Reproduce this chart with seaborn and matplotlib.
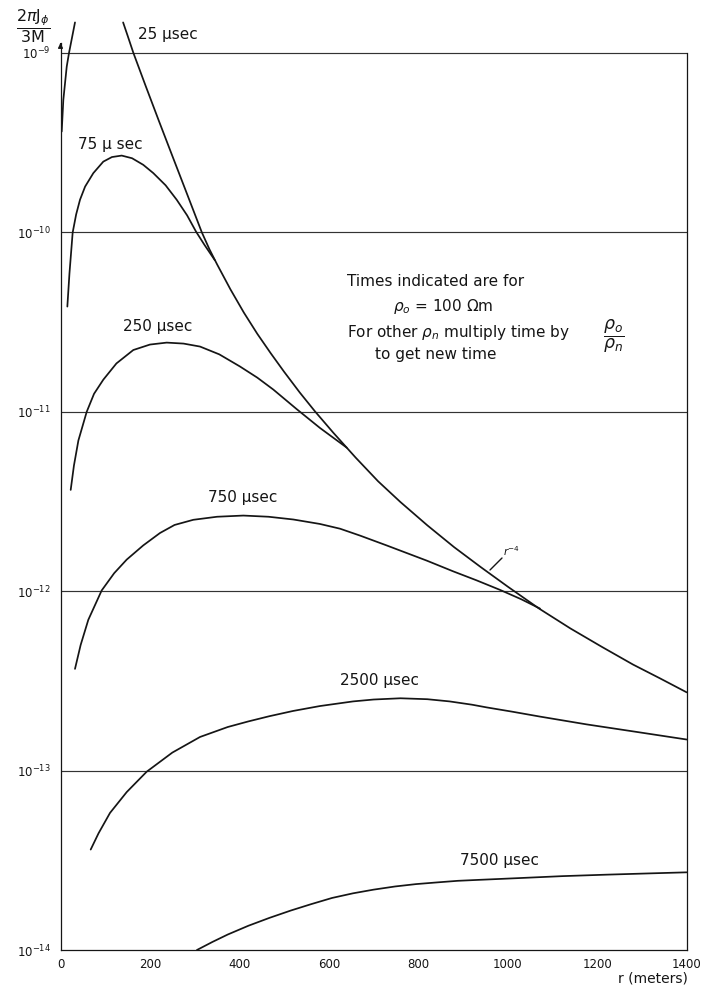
import numpy as np
import pandas as pd
import matplotlib
matplotlib.use("Agg")
import matplotlib.pyplot as plt
from matplotlib.ticker import NullLocator
import seaborn as sns

# ---------------- data ----------------
r_25_near = [2.7, 6.3, 13.9, 19, 32.4]
j_25_near = [3.65e-10, 5.47e-10, 8.39e-10, 1.0e-9, 1.48e-9]

r_25 = [140, 150, 163, 190, 220, 250, 280, 316, 333, 350, 380, 410, 440, 470,
        500, 535, 569, 610, 660, 710, 760, 820, 880, 940, 1000, 1070, 1140,
        1210, 1280, 1340, 1400]
j_25 = [1.48e-9, 1.25e-9, 1.0e-9, 6.59e-10, 4.18e-10, 2.67e-10, 1.71e-10,
        1.0e-10, 8.05e-11, 6.64e-11, 4.81e-11, 3.57e-11, 2.72e-11, 2.12e-11,
        1.67e-11, 1.28e-11, 1.005e-11, 7.64e-12, 5.55e-12, 4.1e-12, 3.14e-12,
        2.33e-12, 1.76e-12, 1.36e-12, 1.06e-12, 8.0e-13, 6.2e-13, 4.9e-13,
        3.9e-13, 3.27e-13, 2.73e-13]

r_75 = [15.3, 20, 27.2, 35, 43.6, 55, 73.4, 95.7, 115, 136.8, 160, 185, 207.5,
        235, 259.8, 283, 303, 322, 345]
j_75 = [3.86e-11, 5.89e-11, 9.98e-11, 1.26e-10, 1.52e-10, 1.80e-10, 2.14e-10,
        2.48e-10, 2.63e-10, 2.68e-10, 2.59e-10, 2.38e-10, 2.14e-10, 1.83e-10,
        1.52e-10, 1.245e-10, 1.01e-10, 8.51e-11, 7.0e-11]

r_250 = [22.8, 30, 40, 58.6, 75, 95.7, 125, 162.8, 200, 237.4, 275, 311.9, 355,
         401, 440, 475.8, 528, 580, 640]
j_250 = [3.67e-12, 5.01e-12, 6.92e-12, 1.0e-11, 1.26e-11, 1.51e-11, 1.86e-11,
         2.21e-11, 2.37e-11, 2.43e-11, 2.40e-11, 2.31e-11, 2.09e-11, 1.79e-11,
         1.55e-11, 1.33e-11, 1.035e-11, 8.13e-12, 6.31e-12]

r_750 = [32.4, 45, 62.2, 92.1, 120, 148, 185, 222.4, 255, 296.9, 350, 408.7,
         465, 520.5, 580, 625, 670, 729, 819, 878, 930, 983, 1030, 1072]
j_750 = [3.69e-13, 5.01e-13, 6.93e-13, 1.01e-12, 1.26e-12, 1.50e-12, 1.80e-12,
         2.11e-12, 2.34e-12, 2.50e-12, 2.60e-12, 2.64e-12, 2.60e-12, 2.51e-12,
         2.37e-12, 2.23e-12, 2.04e-12, 1.80e-12, 1.48e-12, 1.29e-12, 1.15e-12,
         1.016e-12, 9.02e-13, 8.0e-13]

r_2500 = [67.5, 85, 110.7, 148, 192.7, 250, 312, 374, 420, 467, 520, 580, 654,
          700, 760, 820, 870, 920, 953, 1010, 1072, 1176, 1290, 1400]
j_2500 = [3.63e-14, 4.47e-14, 5.81e-14, 7.59e-14, 9.86e-14, 1.26e-13, 1.54e-13,
          1.75e-13, 1.88e-13, 2.01e-13, 2.15e-13, 2.29e-13, 2.43e-13, 2.49e-13,
          2.53e-13, 2.50e-13, 2.43e-13, 2.33e-13, 2.25e-13, 2.13e-13, 2.00e-13,
          1.81e-13, 1.64e-13, 1.49e-13]

r_7500 = [305, 340, 374, 420, 467, 515, 560, 607, 654, 700, 748, 795, 841, 888,
          935, 983, 1030, 1121, 1221, 1310, 1400]
j_7500 = [1.0e-14, 1.11e-14, 1.22e-14, 1.365e-14, 1.51e-14, 1.66e-14, 1.80e-14,
          1.95e-14, 2.07e-14, 2.17e-14, 2.26e-14, 2.33e-14, 2.38e-14, 2.43e-14,
          2.46e-14, 2.49e-14, 2.52e-14, 2.58e-14, 2.63e-14, 2.67e-14, 2.71e-14]

curve_labels = ["25 μsec", "75 μ sec", "250 μsec", "750 μsec", "2500 μsec", "7500 μsec"]
x_ticks = [0, 200, 400, 600, 800, 1000, 1200, 1400]
y_ticks = [1e-14, 1e-13, 1e-12, 1e-11, 1e-10, 1e-9]
y_tick_labels = [r"$10^{-14}$", r"$10^{-13}$", r"$10^{-12}$", r"$10^{-11}$",
                 r"$10^{-10}$", r"$10^{-9}$"]

series = [("25a", r_25_near, j_25_near), ("25", r_25, j_25), ("75", r_75, j_75),
          ("250", r_250, j_250), ("750", r_750, j_750),
          ("2500", r_2500, j_2500), ("7500", r_7500, j_7500)]
df = pd.concat([pd.DataFrame({"curve": name, "r": rr, "J": jj})
                for name, rr, jj in series], ignore_index=True)

# ---------------- figure ----------------
sns.set_theme(style="white")
plt.rcParams["font.family"] = ["DejaVu Sans"]
plt.rcParams["mathtext.fontset"] = "dejavusans"

W, H = 717, 986
fig = plt.figure(figsize=(W / 100, H / 100), dpi=100)
x0, x1, ybot, ytop = 60.5, 686.7, 950, 20
ax = fig.add_axes([x0 / W, (H - ybot) / H, (x1 - x0) / W, (ybot - ytop) / H])


def P(px, py):
    return (px / W, 1 - py / H)


ink = "#151515"
ax.set_yscale("log")
sns.lineplot(data=df, x="r", y="J", units="curve", estimator=None, sort=True,
             color=ink, lw=1.25, ax=ax, legend=False,
             solid_joinstyle="round", solid_capstyle="round")

top_val = 10 ** (-9 + 33 / 179.5)
ax.set_xlim(0, 1400)
ax.set_ylim(1e-14, top_val)

# horizontal decade lines
ax.hlines(y_ticks[1:], 0, 1400, color="#333333", lw=0.85, zorder=1)

ax.set_xticks(x_ticks)
ax.set_xticklabels([str(v) for v in x_ticks])
ax.set_yticks(y_ticks)
ax.set_yticklabels(y_tick_labels)
ax.yaxis.set_minor_locator(NullLocator())
ax.xaxis.set_minor_locator(NullLocator())
ax.tick_params(axis="x", direction="in", length=4, width=0.8, pad=6,
               labelsize=8.5, colors=ink)
ax.tick_params(axis="y", length=0, pad=7, labelsize=8.5, colors=ink)
ax.set_xlabel("")
ax.set_ylabel("")

ax.spines["top"].set_visible(False)
arrow_top = 10 ** (-9 + 10 / 179.5)
ax.spines["left"].set_bounds(1e-14, arrow_top)
ax.spines["right"].set_bounds(1e-14, 1e-9)
ax.spines["bottom"].set_bounds(0, 1400)
for s in ["left", "right", "bottom"]:
    ax.spines[s].set_color(ink)
    ax.spines[s].set_linewidth(0.9)
ax.annotate("", xy=(0, arrow_top), xytext=(0, 10 ** (-8.97)),
            arrowprops=dict(arrowstyle="-|>", color=ink, lw=0.9,
                            mutation_scale=7), annotation_clip=False)

# curve labels
label_pos = [(138, 34), (78, 144), (123, 327), (208, 498), (340, 680), (460, 860)]
for txt, (px, py) in zip(curve_labels, label_pos):
    fig.text(*P(px, py), txt, ha="left", va="center", fontsize=11, color=ink)

# explanatory note
fs_note = 11
fig.text(*P(347, 282), "Times indicated are for", ha="left", va="center",
         fontsize=fs_note, color=ink)
fig.text(*P(393, 307), r"$\rho_o$ = 100 $\Omega$m", ha="left", va="center",
         fontsize=fs_note, color=ink)
fig.text(*P(347, 332), r"For other $\rho_n$ multiply time by", ha="left",
         va="center", fontsize=fs_note, color=ink)
fig.text(*P(614, 336), r"$\dfrac{\rho_o}{\rho_n}$", ha="center", va="center",
         fontsize=12.5, color=ink)
fig.text(*P(375, 354), "to get new time", ha="left", va="center",
         fontsize=fs_note, color=ink)

# r^-4 marker
fig.text(*P(503, 551), r"$r^{-4}$", ha="left", va="center", fontsize=7.5,
         color=ink)
fig.add_artist(plt.Line2D([502 / W, 490 / W], [1 - 558 / H, 1 - 570 / H],
                          transform=fig.transFigure, color=ink, lw=1.0))

# axis titles
fig.text(*P(33, 26), r"$\dfrac{2\pi \mathrm{J}_\phi}{3\mathrm{M}}$",
         ha="center", va="center", fontsize=11.5, color=ink)
fig.text(*P(653, 978), "r (meters)", ha="center", va="center", fontsize=10,
         color=ink)

fig.savefig("out.png", dpi=100, facecolor="white")
